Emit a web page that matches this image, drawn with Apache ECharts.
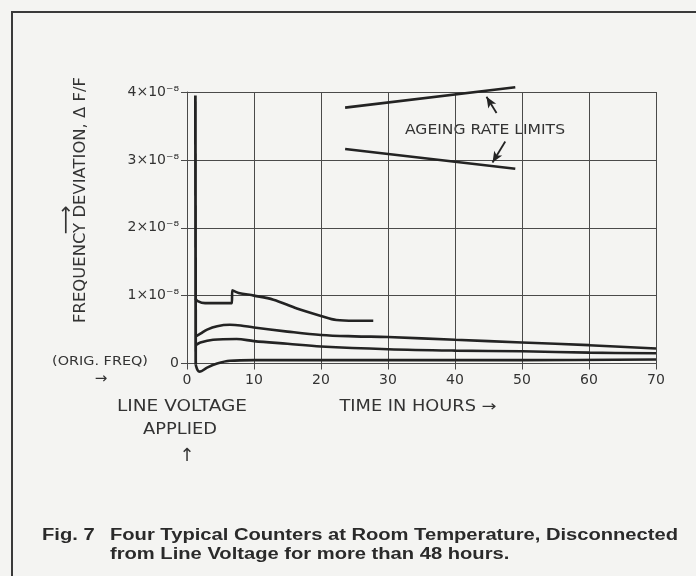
<!DOCTYPE html>
<html>
<head>
<meta charset="utf-8">
<script src="https://cdn.jsdelivr.net/npm/echarts@6/dist/echarts.min.js"></script>
<style>
html,body{margin:0;padding:0;background:#f4f4f2;}
#chart{width:696px;height:576px;}
</style>
</head>
<body>
<div id="chart"></div>
<script>
// time in hours, deviation in units of 1e-8
const xTicks = [0, 10, 20, 30, 40, 50, 60, 70];
const yTickLabels = ['0', '1×10⁻⁸', '2×10⁻⁸', '3×10⁻⁸', '4×10⁻⁸'];

const counterA = [[1.25,0.96],[1.6,0.92],[2.7,0.89],[6.7,0.89],[6.75,1.08],[7.7,1.04],[10,1.0],[12.9,0.94],[16.4,0.81],[20,0.70],[22.3,0.64],[25,0.63],[27.8,0.63]];
const counterB = [[1.3,0.40],[2,0.44],[3,0.50],[4.5,0.55],[6.4,0.57],[8,0.56],[10,0.53],[15,0.47],[20,0.42],[25,0.40],[30,0.39],[40,0.35],[50,0.31],[60,0.27],[70,0.22]];
const counterC = [[1.3,0.27],[2,0.31],[3.9,0.35],[7.4,0.36],[10,0.33],[15,0.29],[20,0.25],[30,0.21],[40,0.19],[50,0.18],[60,0.16],[70,0.15]];
const counterD = [[1.3,-0.02],[1.6,-0.1],[1.9,-0.12],[3,-0.06],[4.5,0.0],[6.4,0.04],[10,0.05],[20,0.05],[30,0.05],[50,0.05],[70,0.06]];
const switchOn = [[1.25,3.95],[1.3,-0.02]];
const ageingUpper = [[23.6,3.77],[49,4.07]];
const ageingLower = [[23.6,3.16],[49,2.87]];
const arrowUpper = [[46.2,3.69],[44.7,3.93]];
const arrowLower = [[47.5,3.27],[45.6,2.96]];

const yTitle = 'FREQUENCY DEVIATION, Δ F/F';
const captionFig = 'Fig. 7';
const captionLine1 = 'Four Typical Counters at Room Temperature, Disconnected';
const captionLine2 = 'from Line Voltage for more than 48 hours.';

const ink = '#232323';
const gridInk = '#4a4a4a';
const hand = "'DejaVu Sans', sans-serif";
const capFont = "'Liberation Sans', Arial, sans-serif";

const mctx = document.createElement('canvas').getContext('2d');
function measure(text, size, family, weight) {
  mctx.font = (weight || 'normal') + ' ' + size + 'px ' + family;
  return mctx.measureText(text).width;
}
function handText(text, x, y, size, targetW, rot) {
  const w = measure(text, size, hand);
  return {type:'text', x, y, rotation:rot || 0, scaleX: targetW / w, silent:true,
    style:{text, fontFamily:hand, fontSize:size, fill:'#333', align:'center', verticalAlign:'middle'}};
}
const capSize = 16;
const capScale = 568 / measure(captionLine1, capSize, capFont, 'bold');
function capText(text, x, y) {
  return {type:'text', x, y, scaleX:capScale, silent:true,
    style:{text, fontFamily:capFont, fontWeight:'bold', fontSize:capSize, fill:'#2a2a2a', align:'left', verticalAlign:'middle'}};
}

const chart = echarts.init(document.getElementById('chart'));

function curve(data, w) {
  return {type:'line', data, showSymbol:false, symbol:'none', smooth:0.35, clip:false,
    lineStyle:{color:ink, width:w||2.6}, silent:true, animation:false};
}
function arrow(data) {
  return {type:'line', data:[], clip:false, silent:true, animation:false,
    markLine:{silent:true, symbol:['none','arrow'], symbolSize:[7,11], label:{show:false},
      lineStyle:{color:ink, width:1.8, type:'solid'},
      data:[[{coord:data[0]},{coord:data[1]}]]}};
}

const option = {
  backgroundColor:'#f4f4f2',
  animation:false,
  grid:{left:187, right:40, top:92, bottom:212.5},
  xAxis:[{
    type:'value', min:0, max:70, interval:10,
    axisLine:{show:true, onZero:false, lineStyle:{color:gridInk, width:1}},
    axisTick:{show:true, length:6, lineStyle:{color:gridInk}},
    axisLabel:{margin:10, color:'#333', fontFamily:hand, fontSize:14,
      formatter:v => xTicks.indexOf(v) >= 0 ? String(v) : ''},
    splitLine:{show:true, lineStyle:{color:gridInk, width:1}}
  },{
    type:'value', position:'top', min:0, max:70, interval:10,
    axisLine:{show:false}, axisTick:{show:true, length:6, lineStyle:{color:gridInk}},
    axisLabel:{show:false}, splitLine:{show:false}
  }],
  yAxis:[{
    type:'value', min:0, max:4, interval:1,
    axisLine:{show:true, lineStyle:{color:gridInk, width:1}},
    axisTick:{show:true, length:6, lineStyle:{color:gridInk}},
    axisLabel:{margin:8, color:'#333', fontFamily:hand, fontSize:14,
      formatter:v => yTickLabels[Math.round(v)] || ''},
    splitLine:{show:true, lineStyle:{color:gridInk, width:1}}
  },{
    type:'value', position:'right', min:0, max:4, interval:1,
    axisLine:{show:false}, axisTick:{show:true, length:6, lineStyle:{color:gridInk}},
    axisLabel:{show:false}, splitLine:{show:false}
  }],
  series:[
    curve(switchOn, 2.8),
    curve(counterA),
    curve(counterB),
    curve(counterC),
    curve(counterD),
    curve(ageingUpper, 2.6),
    curve(ageingLower, 2.6),
    arrow(arrowUpper),
    arrow(arrowLower)
  ],
  graphic:[
    {type:'polyline', silent:true, shape:{points:[[12,576],[12,12],[696,12]]},
      style:{stroke:'#3a3a3a', lineWidth:2, fill:null}},
    handText(yTitle, 81, 200, 15, 246, Math.PI/2),
    {type:'text', x:67, y:220, rotation:Math.PI/2, silent:true,
      style:{text:'⟶', fontFamily:hand, fontSize:20, fill:'#333', align:'center', verticalAlign:'middle'}},
    handText('(ORIG. FREQ)', 100, 362, 13, 96),
    {type:'text', x:101, y:379, silent:true,
      style:{text:'→', fontFamily:hand, fontSize:15, fill:'#333', align:'center', verticalAlign:'middle'}},
    handText('LINE VOLTAGE', 182, 407, 16, 130),
    handText('APPLIED', 180, 430, 16, 74),
    {type:'text', x:187, y:456, silent:true,
      style:{text:'↑', fontFamily:hand, fontSize:18, fill:'#333', align:'center', verticalAlign:'middle'}},
    handText('TIME IN HOURS →', 418, 407, 15, 157),
    handText('AGEING RATE LIMITS', 485, 130, 14, 160),
    capText(captionFig, 42, 536),
    capText(captionLine1, 110, 536),
    capText(captionLine2, 110, 555)
  ]
};
chart.setOption(option);
</script>
</body>
</html>
